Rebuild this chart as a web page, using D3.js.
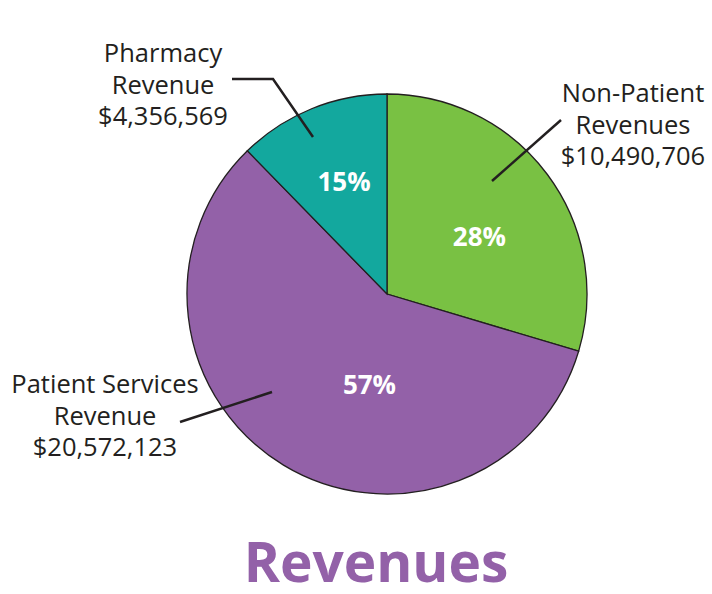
<!DOCTYPE html>
<html>
<head>
<meta charset="utf-8">
<script src="https://cdn.jsdelivr.net/npm/d3@7"></script>
<style>
  body { margin: 0; background: #fff; }
  svg { display: block; font-family: "Open Sans", "Noto Sans", sans-serif; }
</style>
</head>
<body>
<div id="chart"></div>
<script>
// data, in drawing order (clockwise from 12 o'clock)
const categories = ["Non-Patient Revenues", "Patient Services Revenue", "Pharmacy Revenue"];
const values = [10490706, 20572123, 4356569];
const pctLabels = ["28%", "57%", "15%"];
const nameLines = [["Non-Patient", "Revenues"], ["Patient Services", "Revenue"], ["Pharmacy", "Revenue"]];
const colors = ["#79c143", "#9361a8", "#13a89e"];

const w = 712, h = 594,
    cx = 387, cy = 294,
    radius = 200;

// label layout (percent label angle/radius, callout text anchor and leader line)
const pctPos = [{a: 58, r: 109}, {a: 191, r: 92}, {a: 339, r: 120}];
const callouts = [
    {x: 633, y: 102, line: [[561, 120], [492, 181]]},
    {x: 105, y: 393, line: [[180, 422], [272, 392]]},
    {x: 163, y: 62, line: [[232, 79], [273, 79], [313, 137]]}
];

const fmt = d3.format("$,");

let svg = d3.select("#chart")
    .append("svg")
    .attr("width", w)
    .attr("height", h);

let pie = d3.pie().sort(null).value(d => d);
let arc = d3.arc().innerRadius(0).outerRadius(radius);

let g = svg.append("g")
    .attr("transform", "translate(" + cx + "," + cy + ")");

g.selectAll("path")
    .data(pie(values))
    .enter()
    .append("path")
    .attr("d", arc)
    .style("fill", (d, i) => colors[i])
    .style("stroke", "#231f20")
    .style("stroke-width", 1.3);

g.selectAll("text.pct")
    .data(pctLabels)
    .enter()
    .append("text")
    .attr("class", "pct")
    .attr("x", (d, i) => pctPos[i].r * Math.sin(pctPos[i].a * Math.PI / 180))
    .attr("y", (d, i) => -pctPos[i].r * Math.cos(pctPos[i].a * Math.PI / 180))
    .attr("dy", "0.36em")
    .attr("text-anchor", "middle")
    .style("fill", "#fff")
    .style("font-weight", 700)
    .style("font-size", "26px")
    .text(d => d);

// leader lines
svg.selectAll("path.leader")
    .data(callouts)
    .enter()
    .append("path")
    .attr("class", "leader")
    .attr("d", d => d3.line()(d.line))
    .style("fill", "none")
    .style("stroke", "#231f20")
    .style("stroke-width", 2.5);

// callout text
let labels = svg.selectAll("text.callout")
    .data(categories)
    .enter()
    .append("text")
    .attr("class", "callout")
    .attr("text-anchor", "middle")
    .style("fill", "#231f20")
    .style("font-size", "25.5px");

labels.each(function (d, i) {
    let t = d3.select(this);
    let lines = nameLines[i].concat([fmt(values[i])]);
    lines.forEach(function (s, j) {
        t.append("tspan")
            .attr("x", callouts[i].x)
            .attr("y", callouts[i].y + j * 31.5)
            .text(s);
    });
});

svg.append("text")
    .attr("x", 376)
    .attr("y", 582)
    .attr("text-anchor", "middle")
    .style("fill", "#9361a8")
    .style("font-weight", 700)
    .style("font-size", "55px")
    .text("Revenues");
</script>
</body>
</html>
